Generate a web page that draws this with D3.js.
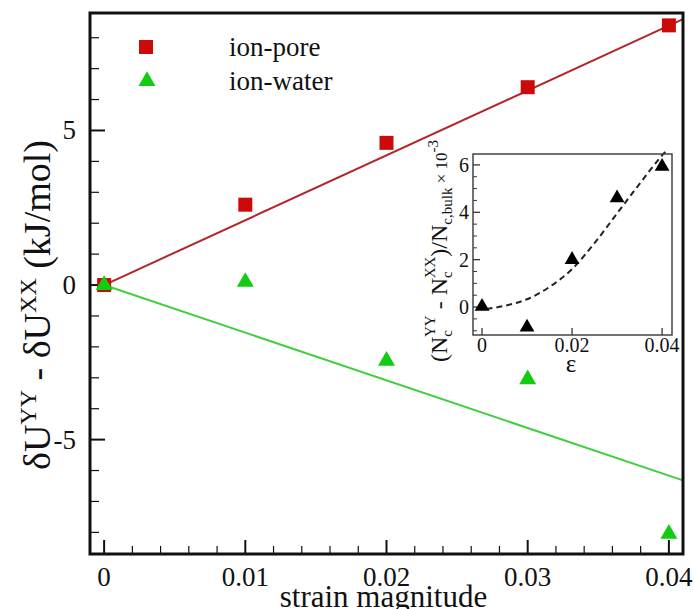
<!DOCTYPE html>
<html><head><meta charset="utf-8">
<script src="https://cdn.jsdelivr.net/npm/d3@7"></script>
<style>body{margin:0;background:#fff}svg{display:block}text{font-family:"Liberation Serif","Times New Roman",serif;fill:#111}</style>
</head><body><svg id="c" width="694" height="609"></svg>
<script>
// ---- data ----
const strain = [0, 0.01, 0.02, 0.03, 0.04];
const ionPore = [0, 2.6, 4.6, 6.4, 8.4];
const ionWater = [0, 0.1, -2.45, -3.05, -8.05];
const poreFitX = [0, 0.041];
const poreFitY = [0, 8.6];
const waterFitX = [0, 0.041];
const waterFitY = [0, -6.32];
const xTicks = [0, 0.01, 0.02, 0.03, 0.04];
const xTickLabels = ["0", "0.01", "0.02", "0.03", "0.04"];
const yTicks = [-5, 0, 5];
const yTickLabels = ["-5", "0", "5"];
// inset
const insetEps = [0, 0.01, 0.02, 0.03, 0.04];
const insetVal = [0.02, -0.85, 2.0, 4.6, 5.93];
const insetFitX = [0.001, 0.005, 0.01, 0.015, 0.02, 0.025, 0.03, 0.035, 0.04, 0.0412];
const insetFitY = [-0.08, 0.05, 0.33, 0.85, 1.6, 2.7, 3.95, 5.2, 6.4, 6.65];
const insetXTicks = [0, 0.02, 0.04];
const insetXTickLabels = ["0", "0.02", "0.04"];
const insetYTicks = [0, 2, 4, 6];
const insetYTickLabels = ["0", "2", "4", "6"];

const svg = d3.select("#c");
const L = 90, T = 13, R = 683, B = 554;
const x = d3.scaleLinear().domain([-0.001, 0.041]).range([L, R]);
const y = d3.scaleLinear().domain([-8.7, 8.8]).range([B, T]);

// minor ticks
const xMinor = d3.range(0, 0.0401, 0.002).filter(v => !xTicks.some(t => Math.abs(t - v) < 1e-9));
const yMinor = d3.range(-8, 8.01, 1).filter(v => !yTicks.includes(Math.round(v)));

const g = svg.append("g");
g.selectAll(".xmin").data(xMinor).join("line")
  .attr("x1", d => x(d)).attr("x2", d => x(d)).attr("y1", B).attr("y2", B - 8)
  .attr("stroke", "#111").attr("stroke-width", 1.2);
g.selectAll(".xmaj").data(xTicks).join("line")
  .attr("x1", d => x(d)).attr("x2", d => x(d)).attr("y1", B).attr("y2", B - 14)
  .attr("stroke", "#111").attr("stroke-width", 2);
g.selectAll(".ymin").data(yMinor).join("line")
  .attr("y1", d => y(d)).attr("y2", d => y(d)).attr("x1", L).attr("x2", L + 9)
  .attr("stroke", "#111").attr("stroke-width", 1.2);
g.selectAll(".ymaj").data(yTicks).join("line")
  .attr("y1", d => y(d)).attr("y2", d => y(d)).attr("x1", L).attr("x2", L + 15)
  .attr("stroke", "#111").attr("stroke-width", 2);

// tick labels
g.selectAll(".xl").data(xTicks).join("text")
  .attr("x", d => x(d)).attr("y", 586).attr("text-anchor", "middle")
  .attr("font-size", 27).text((d, i) => xTickLabels[i]);
g.selectAll(".yl").data(yTicks).join("text")
  .attr("x", 76).attr("y", d => y(d) + 9).attr("text-anchor", "end")
  .attr("font-size", 27).text((d, i) => yTickLabels[i]);

// axis titles
svg.append("text").attr("x", (L + R) / 2 - 3).attr("y", 607).attr("text-anchor", "middle")
  .attr("font-size", 31).text("strain magnitude");
const yl = svg.append("text").attr("transform", "translate(50,305) rotate(-90)")
  .attr("text-anchor", "middle").attr("font-size", 38);
yl.append("tspan").text("δU");
yl.append("tspan").attr("font-size", 24).attr("dy", -14).text("YY");
yl.append("tspan").attr("dy", 14).text(" - δU");
yl.append("tspan").attr("font-size", 24).attr("dy", -14).text("XX");
yl.append("tspan").attr("dy", 14).text(" (kJ/mol)");

// fit lines
const line = d3.line().x(d => x(d[0])).y(d => y(d[1]));
svg.append("path").datum(d3.zip(poreFitX, poreFitY)).attr("d", line)
  .attr("fill", "none").attr("stroke", "#b3262b").attr("stroke-width", 2);
svg.append("path").datum(d3.zip(waterFitX, waterFitY)).attr("d", line)
  .attr("fill", "none").attr("stroke", "#3fcf3f").attr("stroke-width", 2);

// markers
const sq = d3.symbol().type(d3.symbolSquare).size(196);
const tri = d3.symbol().type(d3.symbolTriangle).size(125);
svg.selectAll(".pore").data(d3.zip(strain, ionPore)).join("path")
  .attr("d", sq).attr("transform", d => `translate(${x(d[0])},${y(d[1])})`)
  .attr("fill", "#cc0a0a");
svg.selectAll(".water").data(d3.zip(strain, ionWater)).join("path")
  .attr("d", tri).attr("transform", d => `translate(${x(d[0])},${y(d[1])})`)
  .attr("fill", "#11cc11");

// legend
svg.append("path").attr("d", sq).attr("transform", "translate(146,47)").attr("fill", "#cc0a0a");
svg.append("path").attr("d", tri).attr("transform", "translate(147,81)").attr("fill", "#11cc11");
svg.append("text").attr("x", 229).attr("y", 56).attr("font-size", 27).text("ion-pore");
svg.append("text").attr("x", 229).attr("y", 90).attr("font-size", 27).text("ion-water");

// main frame
svg.append("rect").attr("x", L).attr("y", T).attr("width", R - L).attr("height", B - T)
  .attr("fill", "none").attr("stroke", "#111").attr("stroke-width", 3);

// ---- inset ----
const iL = 473, iT = 154, iR = 672, iB = 335;
const ix = d3.scaleLinear().domain([-0.002, 0.0422]).range([iL, iR]);
const iy = d3.scaleLinear().domain([-1.18, 6.46]).range([iB, iT]);
svg.append("rect").attr("x", iL).attr("y", iT).attr("width", iR - iL).attr("height", iB - iT)
  .attr("fill", "#fff");
const ig = svg.append("g");
const iyMinor = d3.range(-1, 6.01, 0.5).filter(v => !insetYTicks.includes(v));
ig.selectAll(".iym").data(iyMinor).join("line")
  .attr("y1", d => iy(d)).attr("y2", d => iy(d)).attr("x1", iL).attr("x2", iL + 4)
  .attr("stroke", "#333").attr("stroke-width", 1);
ig.selectAll(".iyM").data(insetYTicks).join("line")
  .attr("y1", d => iy(d)).attr("y2", d => iy(d)).attr("x1", iL).attr("x2", iL + 7)
  .attr("stroke", "#333").attr("stroke-width", 1.3);
ig.selectAll(".ixM").data(insetXTicks).join("line")
  .attr("x1", d => ix(d)).attr("x2", d => ix(d)).attr("y1", iB).attr("y2", iB - 7)
  .attr("stroke", "#333").attr("stroke-width", 1.3);
ig.selectAll(".ixl").data(insetXTicks).join("text")
  .attr("x", d => ix(d)).attr("y", 352).attr("text-anchor", "middle")
  .attr("font-size", 20).text((d, i) => insetXTickLabels[i]);
ig.selectAll(".iyl").data(insetYTicks).join("text")
  .attr("x", 469).attr("y", d => iy(d) + 7).attr("text-anchor", "end")
  .attr("font-size", 20).text((d, i) => insetYTickLabels[i]);
svg.append("text").attr("x", 571).attr("y", 372).attr("text-anchor", "middle")
  .attr("font-size", 25).text("ε");

const il = svg.append("text").attr("transform", "translate(447,251) rotate(-90)")
  .attr("text-anchor", "middle").attr("font-size", 24);
il.append("tspan").text("(N");
il.append("tspan").attr("font-size", 15).attr("dy", 5).text("c");
il.append("tspan").attr("font-size", 15).attr("dx", -7).attr("dy", -17).text("YY");
il.append("tspan").attr("dy", 12).text(" - N");
il.append("tspan").attr("font-size", 15).attr("dy", 5).text("c");
il.append("tspan").attr("font-size", 15).attr("dx", -7).attr("dy", -17).text("XX");
il.append("tspan").attr("dy", 12).text(")/N");
il.append("tspan").attr("font-size", 15).attr("dy", 5).text("c,bulk");
il.append("tspan").attr("font-size", 17).attr("dy", -5).text(" × 10");
il.append("tspan").attr("font-size", 15).attr("dy", -9).text("-3");

const iline = d3.line().curve(d3.curveMonotoneX).x(d => ix(d[0])).y(d => iy(d[1]));
svg.append("path").datum(d3.zip(insetFitX, insetFitY)).attr("d", iline)
  .attr("fill", "none").attr("stroke", "#222").attr("stroke-width", 2)
  .attr("stroke-dasharray", "6,4");
const itri = d3.symbol().type(d3.symbolTriangle).size(95);
svg.selectAll(".itri").data(d3.zip(insetEps, insetVal)).join("path")
  .attr("d", itri).attr("transform", d => `translate(${ix(d[0])},${iy(d[1])})`)
  .attr("fill", "#000");
svg.append("rect").attr("x", iL).attr("y", iT).attr("width", iR - iL).attr("height", iB - iT)
  .attr("fill", "none").attr("stroke", "#444").attr("stroke-width", 1.5);
</script></body></html>
